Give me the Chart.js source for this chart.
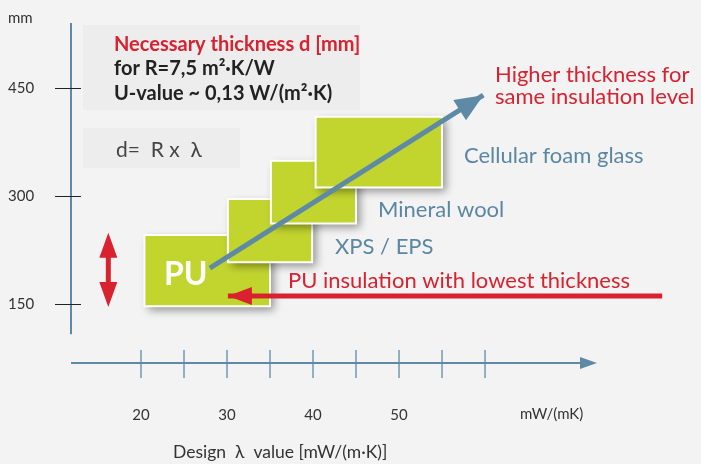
<!DOCTYPE html>
<html><head><meta charset="utf-8">
<script src="https://cdn.jsdelivr.net/npm/chart.js@4/dist/chart.umd.min.js"></script>
<style>html,body{margin:0;padding:0;background:#f3f3f3;overflow:hidden}</style>
</head><body>
<canvas id="c" width="701" height="464"></canvas>
<script>
// ---- data ----
const materials   = ['PU', 'XPS / EPS', 'Mineral wool', 'Cellular foam glass'];
const lambdaFrom  = [20.4, 30.1, 35.1, 40.3];   // design lambda range start [mW/(m·K)]
const lambdaTo    = [35.0, 39.9, 45.0, 55.0];   // design lambda range end
const thickFrom   = [147, 208, 262, 312];       // necessary thickness range [mm]
const thickTo     = [246, 296, 349, 410];
const xTickValues = [20, 25, 30, 35, 40, 45, 50, 55, 60];
const xTickLabels = ['20', '', '30', '', '40', '', '50', '', ''];
const yTickValues = [150, 300, 450];
const yTickLabels = ['150', '300', '450'];
const trendLine   = [{x: 28, y: 200}, {x: 59.8, y: 440}];   // "higher thickness" arrow
const puLine      = [{x: 80.6, y: 161}, {x: 30.1, y: 161}]; // "PU lowest thickness" arrow
const rangeArrow  = [{x: 16.2, y: 146}, {x: 16.2, y: 249}]; // red double arrow

// ---- styles ----
const GREEN = '#c2d52f', BLUE = '#5f8aa6', RED = '#d8222f', TXT = '#333333', BLUE_TXT = '#5b87a3';
const FONT = 'Lato, "Noto Sans", sans-serif';

function px(chart, p) { return {x: chart.scales.x.getPixelForValue(p.x), y: chart.scales.y.getPixelForValue(p.y)}; }
function arrowHead(ctx, from, tip, len, half, color) {
  const a = Math.atan2(tip.y - from.y, tip.x - from.x);
  const bx = tip.x - len * Math.cos(a), by = tip.y - len * Math.sin(a);
  ctx.fillStyle = color;
  ctx.beginPath();
  ctx.moveTo(tip.x, tip.y);
  ctx.lineTo(bx + half * Math.sin(a), by - half * Math.cos(a));
  ctx.lineTo(bx - half * Math.sin(a), by + half * Math.cos(a));
  ctx.closePath();
  ctx.fill();
}
function shadowOn(ctx) { ctx.shadowColor = 'rgba(0,0,0,0.4)'; ctx.shadowBlur = 9; ctx.shadowOffsetX = 4; ctx.shadowOffsetY = 4; }
function shadowOff(ctx) { ctx.shadowColor = 'rgba(0,0,0,0)'; ctx.shadowBlur = 0; ctx.shadowOffsetX = 0; ctx.shadowOffsetY = 0; }

const boxSets = materials.map((m, i) => ({
  label: m,
  data: [
    {x: lambdaFrom[i], y: thickFrom[i]}, {x: lambdaTo[i], y: thickFrom[i]},
    {x: lambdaTo[i], y: thickTo[i]}, {x: lambdaFrom[i], y: thickTo[i]},
    {x: lambdaFrom[i], y: thickFrom[i]}
  ],
  fill: 'shape', backgroundColor: GREEN, borderColor: '#ffffff', borderWidth: 2,
  borderJoinStyle: 'miter', borderCapStyle: 'square',
  pointRadius: 0, pointHoverRadius: 0, tension: 0, order: 10 - i
}));

const deco = {
  id: 'deco',
  beforeDraw(chart) {
    const ctx = chart.ctx, ca = chart.chartArea, xs = chart.scales.x, ys = chart.scales.y;
    ctx.save();
    ctx.fillStyle = '#f3f3f3'; ctx.fillRect(0, 0, chart.width, chart.height);
    ctx.fillStyle = '#ededed';
    ctx.fillRect(83, 25, 277, 85);
    ctx.fillRect(83, 128, 157, 40);
    // y axis line
    ctx.strokeStyle = BLUE; ctx.lineWidth = 2;
    ctx.beginPath(); ctx.moveTo(ca.left, ca.top); ctx.lineTo(ca.left, ys.getPixelForValue(108)); ctx.stroke();
    // y ticks
    ctx.strokeStyle = '#222'; ctx.lineWidth = 1;
    yTickValues.forEach(v => { const y = Math.round(ys.getPixelForValue(v)) + 0.5; ctx.beginPath(); ctx.moveTo(55, y); ctx.lineTo(81, y); ctx.stroke(); });
    // x axis line + arrow
    const yA = ca.bottom;
    ctx.strokeStyle = BLUE; ctx.lineWidth = 2;
    ctx.beginPath(); ctx.moveTo(ca.left, yA); ctx.lineTo(ca.right - 10, yA); ctx.stroke();
    arrowHead(ctx, {x: ca.left, y: yA}, {x: ca.right, y: yA}, 17, 6, BLUE);
    ctx.lineWidth = 1.3;
    xTickValues.forEach(v => { const x = xs.getPixelForValue(v); ctx.beginPath(); ctx.moveTo(x, yA - 13); ctx.lineTo(x, yA + 15); ctx.stroke(); });
    ctx.restore();
  },
  beforeDatasetsDraw(chart) { shadowOn(chart.ctx); },
  beforeDatasetDraw(chart) { shadowOff(chart.ctx); },
  afterDatasetDraw(chart) { shadowOn(chart.ctx); },
  afterDatasetsDraw(chart) {
    const ctx = chart.ctx;
    shadowOff(ctx);
    ctx.save();
    const t0 = px(chart, trendLine[0]), t1 = px(chart, trendLine[1]);
    arrowHead(ctx, t0, t1, 28, 12, BLUE);
    const p0 = px(chart, puLine[0]), p1 = px(chart, puLine[1]);
    arrowHead(ctx, p0, p1, 24, 9, RED);
    const r0 = px(chart, rangeArrow[0]), r1 = px(chart, rangeArrow[1]);
    ctx.strokeStyle = RED; ctx.lineWidth = 5;
    ctx.beginPath(); ctx.moveTo(r0.x, r0.y - 20); ctx.lineTo(r1.x, r1.y + 20); ctx.stroke();
    arrowHead(ctx, r1, r0, 25, 9, RED);
    arrowHead(ctx, r0, r1, 25, 9, RED);
    ctx.restore();
  },
  afterDraw(chart) {
    const ctx = chart.ctx;
    ctx.save();
    ctx.textBaseline = 'alphabetic'; ctx.textAlign = 'left';
    const T = (s, x, y, font, color) => { ctx.font = font; ctx.fillStyle = color; ctx.fillText(s, x, y); };
    T('mm', 8, 23, '15px ' + FONT, TXT);
    T('mW/(mK)', 520, 419, '15px ' + FONT, TXT);
    T('Design  \u03bb  value [mW/(m\u00b7K)]', 173, 458, '17.5px ' + FONT, TXT);
    T('Necessary thickness d [mm]', 114, 51, 'bold 20px ' + FONT, RED);
    T('for R=7,5 m\u00b2\u00b7K/W', 114, 75, 'bold 20px ' + FONT, '#222');
    T('U-value ~ 0,13 W/(m\u00b2\u00b7K)', 114, 100, 'bold 20px ' + FONT, '#222');
    T('d=  R x  \u03bb', 116, 157, '21px ' + FONT, '#444');
    T('Higher thickness for', 495, 82, '22px ' + FONT, RED);
    T('same insulation level', 495, 104, '22px ' + FONT, RED);
    T('Cellular foam glass', 464, 163, '22px ' + FONT, BLUE_TXT);
    T('Mineral wool', 378, 217, '22px ' + FONT, BLUE_TXT);
    T('XPS / EPS', 335, 254, '22px ' + FONT, BLUE_TXT);
    T('PU insulation with lowest thickness', 288, 288, '22px ' + FONT, RED);
    T('PU', 164, 285, 'bold 32px ' + FONT, '#ffffff');
    ctx.restore();
  }
};

new Chart(document.getElementById('c'), {
  type: 'line',
  data: {
    datasets: [
      {label: 'Higher thickness for same insulation level', data: trendLine, borderColor: BLUE, borderWidth: 5,
       borderCapStyle: 'butt', pointRadius: 0, pointHoverRadius: 0, fill: false, order: 1},
      {label: 'PU insulation with lowest thickness', data: puLine, borderColor: RED, borderWidth: 5,
       borderCapStyle: 'butt', pointRadius: 0, pointHoverRadius: 0, fill: false, order: 2, clip: false},
      ...boxSets
    ]
  },
  options: {
    responsive: false, animation: false, events: [],
    layout: {padding: {left: 8, top: 23, right: 104, bottom: 0}},
    plugins: {legend: {display: false}, tooltip: {enabled: false}},
    scales: {
      x: {
        type: 'linear', min: 11.86, max: 73.02,
        grid: {display: false}, border: {display: false},
        afterBuildTicks: s => { s.ticks = xTickValues.map(v => ({value: v})); },
        afterFit: s => { s.height = 101; },
        ticks: {callback: (v, i) => xTickLabels[i], font: {family: FONT, size: 15}, color: TXT,
                padding: 35, maxRotation: 0, autoSkip: false}
      },
      y: {
        type: 'linear', min: 68.1, max: 540.3,
        grid: {display: false}, border: {display: false},
        afterBuildTicks: s => { s.ticks = yTickValues.map(v => ({value: v})); },
        afterFit: s => { s.width = 63; },
        ticks: {callback: (v, i) => yTickLabels[i], font: {family: FONT, size: 15}, color: TXT,
                crossAlign: 'far', padding: 0, autoSkip: false}
      }
    }
  },
  plugins: [deco]
});
</script>
</body></html>
